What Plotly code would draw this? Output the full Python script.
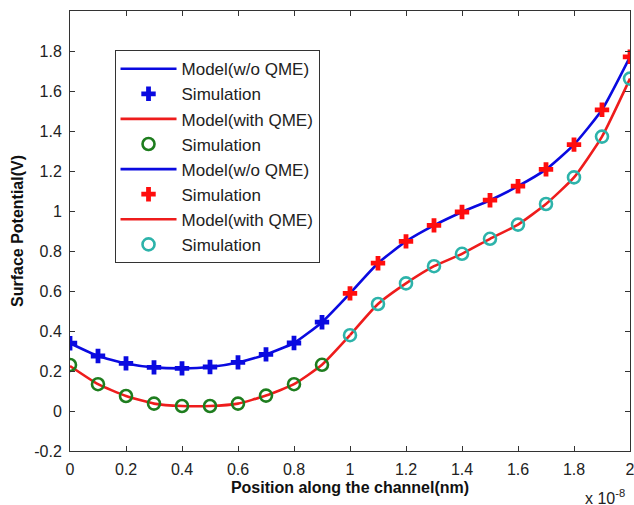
import plotly.graph_objects as go

# Positions along the channel (m)
x_first = [0.0, 0.1e-8, 0.2e-8, 0.3e-8, 0.4e-8, 0.5e-8, 0.6e-8, 0.7e-8, 0.8e-8, 0.9e-8]
x_second = [1.0e-8, 1.1e-8, 1.2e-8, 1.3e-8, 1.4e-8, 1.5e-8, 1.6e-8, 1.7e-8, 1.8e-8, 1.9e-8, 2.0e-8]

# Simulation values (V)
sim_wo_first = [0.339, 0.275, 0.238, 0.218, 0.213, 0.220, 0.243, 0.283, 0.340, 0.444]
sim_with_first = [0.230, 0.134, 0.075, 0.037, 0.025, 0.025, 0.037, 0.077, 0.134, 0.231]
sim_wo_second = [0.588, 0.739, 0.848, 0.928, 0.995, 1.054, 1.124, 1.208, 1.332, 1.506, 1.771]
sim_with_second = [0.379, 0.535, 0.638, 0.724, 0.786, 0.861, 0.932, 1.035, 1.168, 1.372, 1.662]

# Model values (V)
model_wo = [0.339, 0.275, 0.238, 0.218, 0.213, 0.220, 0.243, 0.283, 0.340, 0.444,
            0.588, 0.739, 0.848, 0.928, 0.995, 1.054, 1.124, 1.208, 1.332, 1.506, 1.771]
model_with = [0.225, 0.134, 0.075, 0.037, 0.025, 0.025, 0.037, 0.077, 0.134, 0.231,
              0.379, 0.535, 0.638, 0.724, 0.786, 0.861, 0.932, 1.035, 1.168, 1.372, 1.662]
x_model = x_first + x_second

x_tickvals = [0.0, 0.2e-8, 0.4e-8, 0.6e-8, 0.8e-8, 1.0e-8, 1.2e-8, 1.4e-8, 1.6e-8, 1.8e-8, 2.0e-8]
x_ticktext = ["0", "0.2", "0.4", "0.6", "0.8", "1", "1.2", "1.4", "1.6", "1.8", "2"]
y_tickvals = [-0.2, 0, 0.2, 0.4, 0.6, 0.8, 1.0, 1.2, 1.4, 1.6, 1.8]
y_ticktext = ["-0.2", "0", "0.2", "0.4", "0.6", "0.8", "1", "1.2", "1.4", "1.6", "1.8"]

BLUE = "#0a0ae0"
RED = "#ee1c1c"
GREEN = "#1e7d1e"
CYAN = "#2db3aa"
MRED = "#ff0d0d"

FONT = "Liberation Sans, Arial, sans-serif"
fig = go.Figure()

def line(xs, ys, color, name, rank):
    fig.add_trace(go.Scatter(x=xs, y=ys, mode="lines", name=name,
                             line=dict(color=color, width=2.6, shape="spline", smoothing=0.5),
                             legendrank=rank, legendgroup=str(rank)))

def marks(xs, ys, color, symbol, name, rank, size, lw):
    fig.add_trace(go.Scatter(x=xs, y=ys, mode="markers", name=name,
                             marker=dict(color=color, symbol=symbol, size=size,
                                         line=dict(color=color, width=lw)),
                             legendrank=rank, legendgroup=str(rank)))

line(x_model[:11], model_wo[:11], BLUE, "Model(w/o QME)", 1)
line(x_model[:11], model_with[:11], RED, "Model(with QME)", 3)
line(x_model[10:], model_wo[10:], BLUE, "Model(w/o QME)", 5)
line(x_model[10:], model_with[10:], RED, "Model(with QME)", 7)
marks(x_first, sim_wo_first, BLUE, "cross", "Simulation", 2, 12, 0)
marks(x_first, sim_with_first, GREEN, "circle-open", "Simulation", 4, 12, 2.6)
marks(x_second, sim_wo_second, MRED, "cross", "Simulation", 6, 12, 0)
marks(x_second, sim_with_second, CYAN, "circle-open", "Simulation", 8, 12, 2.6)

axis_common = dict(showline=True, linecolor="#333333", linewidth=1, mirror="ticks",
                   ticks="inside", ticklen=5, tickcolor="#333333", showgrid=False,
                   zeroline=False, ticklabeloverflow="allow", automargin=False,
                   tickfont=dict(family=FONT, size=16, color="#222222"))

fig.update_layout(
    width=634, height=505,
    margin=dict(l=70, r=4, t=11, b=54),
    paper_bgcolor="white", plot_bgcolor="white",
    font=dict(family=FONT, size=16, color="#222222"),
    xaxis=dict(range=[0, 2.0e-8], tickvals=x_tickvals, ticktext=x_ticktext,
               ticklabelstandoff=4,
               title=dict(text="<b>Position along the channel(nm)</b>", standoff=4,
                          font=dict(family=FONT, size=16, color="#111111")),
               **axis_common),
    yaxis=dict(range=[-0.2, 2.0], tickvals=y_tickvals, ticktext=y_ticktext,
               ticklabelstandoff=4,
               title=dict(text="<b>Surface Potential(V)</b>", standoff=6,
                          font=dict(family=FONT, size=16, color="#111111")),
               **axis_common),
    legend=dict(x=0.0795, y=0.911, xanchor="left", yanchor="top",
                bordercolor="#333333", borderwidth=1, bgcolor="white",
                tracegroupgap=0, itemwidth=56,
                font=dict(family=FONT, size=17, color="#222222")),
    showlegend=True,
)

fig.add_annotation(xref="paper", yref="paper", x=1, y=-0.105, xanchor="right", yanchor="middle",
                   xshift=-3, text="x 10<sup>-8</sup>", showarrow=False,
                   font=dict(family=FONT, size=16, color="#222222"))

fig.write_html("out.html")
